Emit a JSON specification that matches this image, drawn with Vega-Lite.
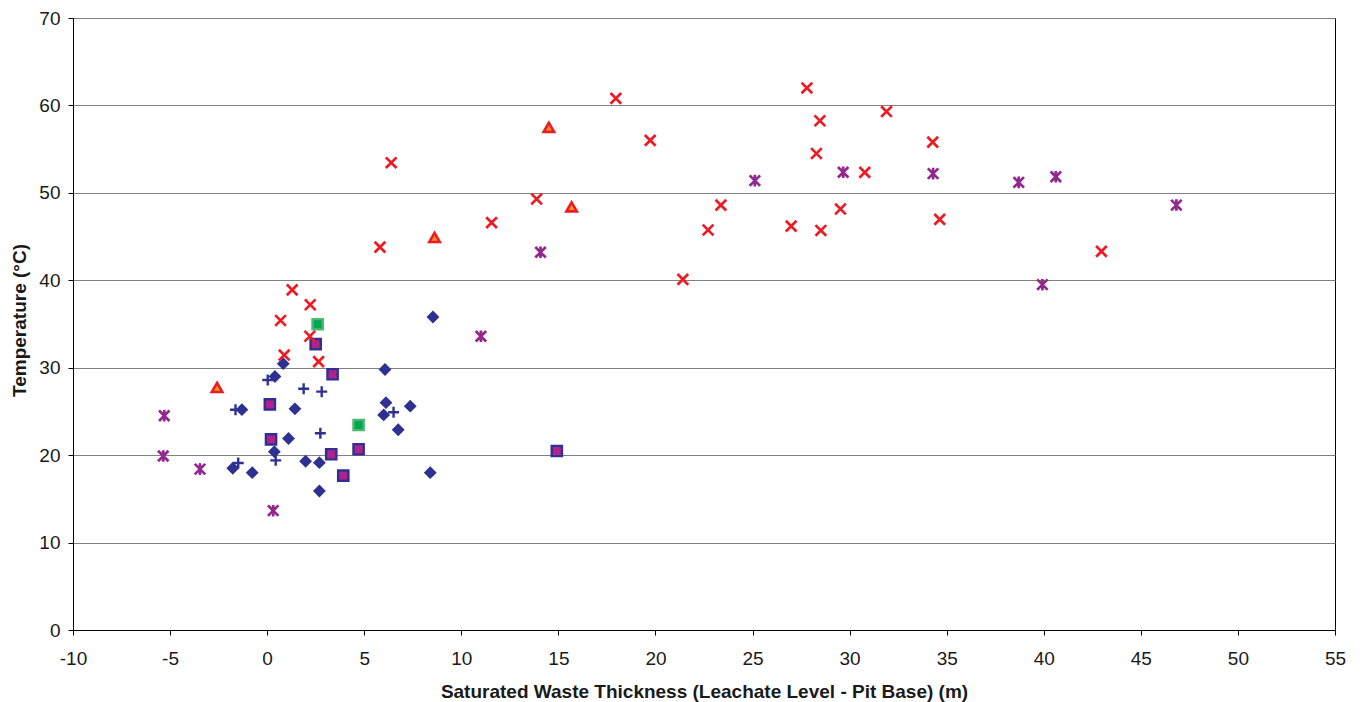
{
  "$schema": "https://vega.github.io/schema/vega-lite/v6.json",
  "width": 1262,
  "height": 612,
  "autosize": {"type": "none"},
  "padding": {"left": 73, "top": 18, "right": 29, "bottom": 72},
  "background": "white",
  "config": {
    "view": {"stroke": "black", "strokeWidth": 1},
    "font": "Liberation Sans",
    "axis": {
      "labelFont": "Liberation Sans",
      "labelFontSize": 19,
      "labelColor": "#1a1a1a",
      "labelFlush": false,
      "labelOverlap": false,
      "titleFont": "Liberation Sans",
      "titleFontSize": 19,
      "titleFontWeight": "bold",
      "titleColor": "#1a1a1a",
      "domainColor": "black",
      "tickColor": "black",
      "tickSize": 5
    }
  },
  "data": {
    "values": [
      {"s": "diamond", "x": 8.54, "y": 35.8},
      {"s": "diamond", "x": 0.83, "y": 30.46},
      {"s": "diamond", "x": 0.4, "y": 29.0},
      {"s": "diamond", "x": 6.07, "y": 29.8},
      {"s": "diamond", "x": 1.43, "y": 25.3},
      {"s": "diamond", "x": -1.3, "y": 25.2},
      {"s": "diamond", "x": 6.12, "y": 26.0},
      {"s": "diamond", "x": 7.37, "y": 25.6},
      {"s": "diamond", "x": 6.0, "y": 24.6},
      {"s": "diamond", "x": 6.75, "y": 22.9},
      {"s": "diamond", "x": 1.1, "y": 21.9},
      {"s": "diamond", "x": 0.37, "y": 20.4},
      {"s": "diamond", "x": 1.98, "y": 19.3},
      {"s": "diamond", "x": 2.69, "y": 19.14},
      {"s": "diamond", "x": -1.77, "y": 18.5},
      {"s": "diamond", "x": -0.77, "y": 18.0},
      {"s": "diamond", "x": 2.69, "y": 15.9},
      {"s": "diamond", "x": 8.4, "y": 18.0},
      {"s": "msquare", "x": 2.5, "y": 32.7},
      {"s": "msquare", "x": 3.37, "y": 29.25},
      {"s": "msquare", "x": 0.14, "y": 25.8},
      {"s": "msquare", "x": 0.2, "y": 21.8},
      {"s": "msquare", "x": 3.3, "y": 20.1},
      {"s": "msquare", "x": 4.71, "y": 20.67},
      {"s": "msquare", "x": 3.92, "y": 17.65},
      {"s": "msquare", "x": 14.92, "y": 20.47},
      {"s": "gsquare", "x": 2.6, "y": 34.97},
      {"s": "gsquare", "x": 4.71, "y": 23.45},
      {"s": "triangle", "x": -2.58, "y": 27.75},
      {"s": "triangle", "x": 14.51, "y": 57.5},
      {"s": "triangle", "x": 15.68, "y": 48.4},
      {"s": "triangle", "x": 8.62, "y": 44.9},
      {"s": "xcross", "x": 1.29, "y": 38.9},
      {"s": "xcross", "x": 2.22, "y": 37.2},
      {"s": "xcross", "x": 0.69, "y": 35.4},
      {"s": "xcross", "x": 2.2, "y": 33.6},
      {"s": "xcross", "x": 0.88, "y": 31.45},
      {"s": "xcross", "x": 2.65, "y": 30.7},
      {"s": "xcross", "x": 6.39, "y": 53.45},
      {"s": "xcross", "x": 5.81, "y": 43.8},
      {"s": "xcross", "x": 17.96, "y": 60.8},
      {"s": "xcross", "x": 19.73, "y": 56.0},
      {"s": "xcross", "x": 13.88, "y": 49.3},
      {"s": "xcross", "x": 11.56, "y": 46.6},
      {"s": "xcross", "x": 21.41, "y": 40.1},
      {"s": "xcross", "x": 27.8, "y": 62.0},
      {"s": "xcross", "x": 31.9, "y": 59.3},
      {"s": "xcross", "x": 28.47, "y": 58.25},
      {"s": "xcross", "x": 34.28, "y": 55.8},
      {"s": "xcross", "x": 28.29, "y": 54.5},
      {"s": "xcross", "x": 30.78, "y": 52.35},
      {"s": "xcross", "x": 23.37, "y": 48.6},
      {"s": "xcross", "x": 22.71, "y": 45.75},
      {"s": "xcross", "x": 26.99, "y": 46.2},
      {"s": "xcross", "x": 28.52, "y": 45.7},
      {"s": "xcross", "x": 29.53, "y": 48.15},
      {"s": "xcross", "x": 34.64, "y": 46.97},
      {"s": "xcross", "x": 42.97, "y": 43.3},
      {"s": "asterisk", "x": -5.3, "y": 24.5},
      {"s": "asterisk", "x": -5.35, "y": 19.9},
      {"s": "asterisk", "x": -3.46, "y": 18.4},
      {"s": "asterisk", "x": 0.31, "y": 13.65},
      {"s": "asterisk", "x": 14.08, "y": 43.2},
      {"s": "asterisk", "x": 11.01, "y": 33.6},
      {"s": "asterisk", "x": 29.67, "y": 52.35},
      {"s": "asterisk", "x": 34.3, "y": 52.2},
      {"s": "asterisk", "x": 25.12, "y": 51.4},
      {"s": "asterisk", "x": 38.71, "y": 51.2},
      {"s": "asterisk", "x": 40.62, "y": 51.85},
      {"s": "asterisk", "x": 46.83, "y": 48.6},
      {"s": "asterisk", "x": 39.93, "y": 39.5},
      {"s": "plus", "x": 0.03, "y": 28.6},
      {"s": "plus", "x": 1.88, "y": 27.6},
      {"s": "plus", "x": 2.81, "y": 27.26},
      {"s": "plus", "x": -1.63, "y": 25.2},
      {"s": "plus", "x": 6.51, "y": 24.9},
      {"s": "plus", "x": 2.74, "y": 22.5},
      {"s": "plus", "x": -1.49, "y": 19.1},
      {"s": "plus", "x": 0.44, "y": 19.4}
    ]
  },
  "encoding": {
    "x": {
      "field": "x",
      "type": "quantitative",
      "scale": {"domain": [-10, 55], "nice": false, "zero": false},
      "axis": {
        "title": "Saturated Waste Thickness (Leachate Level - Pit Base) (m)",
        "values": [-10, -5, 0, 5, 10, 15, 20, 25, 30, 35, 40, 45, 50, 55],
        "labelExpr": "datum.value < 0 ? '-' + abs(datum.value) : '' + datum.value",
        "grid": false,
        "labelPadding": 14,
        "titleBaseline": "alphabetic",
        "titleY": 67
      }
    },
    "y": {
      "field": "y",
      "type": "quantitative",
      "scale": {"domain": [0, 70], "nice": false},
      "axis": {
        "title": "Temperature (°C)",
        "values": [0, 10, 20, 30, 40, 50, 60, 70],
        "grid": true,
        "gridColor": "#808080",
        "gridWidth": 1.2,
        "labelPadding": 8,
        "titleBaseline": "alphabetic",
        "titleX": -48,
        "titleY": 302
      }
    }
  },
  "layer": [
    {
      "transform": [{"filter": "datum.s === 'diamond'"}],
      "mark": {"type": "point", "shape": "diamond", "filled": true, "color": "#2E3192", "size": 165, "opacity": 1}
    },
    {
      "transform": [{"filter": "datum.s === 'msquare'"}],
      "mark": {"type": "point", "shape": "square", "filled": true, "fill": "#B2228C", "stroke": "#2E3192", "strokeWidth": 2.4, "size": 105, "opacity": 1}
    },
    {
      "transform": [{"filter": "datum.s === 'gsquare'"}],
      "mark": {"type": "point", "shape": "square", "filled": true, "fill": "#00A650", "stroke": "#4DB96E", "strokeWidth": 2.4, "size": 105, "opacity": 1}
    },
    {
      "transform": [{"filter": "datum.s === 'triangle'"}],
      "mark": {"type": "point", "shape": "triangle-up", "filled": true, "fill": "#F7941D", "stroke": "#ED1C24", "strokeWidth": 2.6, "size": 110, "opacity": 1}
    },
    {
      "transform": [{"filter": "datum.s === 'xcross'"}],
      "mark": {"type": "point", "shape": "M-1,-1L1,1M-1,1L1,-1", "filled": false, "color": "#ED1C24", "strokeWidth": 2.7, "size": 115, "opacity": 1}
    },
    {
      "transform": [{"filter": "datum.s === 'asterisk'"}],
      "mark": {"type": "point", "shape": "M-1,-1L1,1M-1,1L1,-1M0,-1.1L0,1.1", "filled": false, "color": "#92278F", "strokeWidth": 2.7, "size": 110, "opacity": 1}
    },
    {
      "transform": [{"filter": "datum.s === 'plus'"}],
      "mark": {"type": "point", "shape": "M-1,0L1,0M0,-1L0,1", "filled": false, "color": "#2E3192", "strokeWidth": 2.4, "size": 120, "opacity": 1}
    }
  ]
}
